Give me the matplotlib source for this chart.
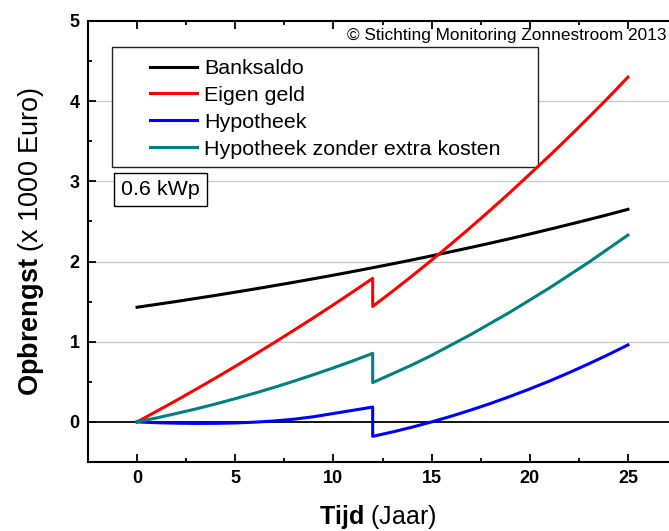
import matplotlib
matplotlib.use('Agg')
import matplotlib.pyplot as plt
from matplotlib.patches import Rectangle

plt.rcParams['font.family'] = ['Liberation Sans', 'DejaVu Sans']
plt.rcParams['mathtext.fontset'] = 'custom'
plt.rcParams['mathtext.rm'] = 'Liberation Sans'
plt.rcParams['mathtext.bf'] = 'Liberation Sans:bold'

# --- Data (x 1000 Euro) ---
jaren = list(range(0, 26))
banksaldo = [1.430, 1.466, 1.502, 1.540, 1.578, 1.618, 1.658, 1.700, 1.742, 1.786,
             1.830, 1.876, 1.923, 1.971, 2.020, 2.071, 2.123, 2.176, 2.230, 2.286,
             2.343, 2.402, 2.462, 2.523, 2.586, 2.651]

# series with a step at year 12 (two values at t = 12)
jaren_sprong = list(range(0, 13)) + list(range(12, 26))
eigen_geld = [0.0, 0.133, 0.268, 0.407, 0.548, 0.693, 0.841, 0.991, 1.145, 1.301,
              1.461, 1.624, 1.79,
              1.44, 1.627, 1.819, 2.017, 2.22, 2.429, 2.643, 2.863, 3.09,
              3.319, 3.555, 3.797, 4.044, 4.30]
hypotheek = [0.0, -0.010, -0.016, -0.019, -0.018, -0.013, -0.003, 0.012, 0.034,
             0.065, 0.105, 0.145, 0.185,
             -0.18, -0.126, -0.066, 0.0, 0.071, 0.148, 0.230, 0.318, 0.411,
             0.509, 0.614, 0.724, 0.839, 0.96]
hypotheek_zonder = [0.0, 0.050, 0.105, 0.162, 0.224, 0.290, 0.359, 0.432, 0.509,
                    0.590, 0.674, 0.762, 0.855,
                    0.49, 0.60, 0.71, 0.83, 0.96, 1.09, 1.23, 1.37, 1.52,
                    1.67, 1.83, 1.99, 2.16, 2.33]

labels = ['Banksaldo', 'Eigen geld', 'Hypotheek', 'Hypotheek zonder extra kosten']
colors = ['black', '#ff0000', '#0000ff', '#008080']

# --- Plotting Code ---
fig = plt.figure(figsize=(6.69, 5.31), dpi=100)
ax = fig.add_axes([88 / 669, 1 - 462 / 531, 589 / 669, 441 / 531])

ax.set_xlim(-2.5, 27.5)
ax.set_ylim(-0.5, 5)

for y in [1, 2, 3, 4]:
    ax.axhline(y, color='#c8c8c8', linewidth=0.9, zorder=0)
ax.axhline(0, color='black', linewidth=1.3, zorder=1)

lw = 2.2
h1, = ax.plot(jaren, banksaldo, color=colors[0], linewidth=lw, zorder=4)
h2, = ax.plot(jaren_sprong, eigen_geld, color=colors[1], linewidth=lw, zorder=4)
h3, = ax.plot(jaren_sprong, hypotheek, color=colors[2], linewidth=lw, zorder=4)
h4, = ax.plot(jaren_sprong, hypotheek_zonder, color=colors[3], linewidth=lw, zorder=4)

# legend box drawn separately for its wide side padding
ax.add_patch(Rectangle((-1.27, 3.18), 21.69, 1.50, facecolor='white',
                       edgecolor='#222222', linewidth=1.0, zorder=3))
leg = ax.legend([h1, h2, h3, h4], labels, loc='upper left',
                bbox_to_anchor=(150 / 669, 1 - 59 / 531),
                bbox_transform=fig.transFigure, frameon=False,
                fontsize=15.4, borderpad=0, borderaxespad=0,
                handlelength=2.2, handletextpad=0.33, labelspacing=0.37)
leg.set_zorder(5)

ax.text(1.2, 2.9, '0.6 kWp', fontsize=15.4, ha='center', va='center', zorder=5,
        bbox=dict(boxstyle='square,pad=0.33', facecolor='white',
                  edgecolor='black', linewidth=1.0))

ax.text(26.99, 4.82, '\u00a9 Stichting Monitoring Zonnestroom 2013',
        fontsize=12.4, ha='right', va='center', zorder=5)

# ticks
ax.set_xticks([0, 5, 10, 15, 20, 25])
ax.set_xticks([-2.5, 2.5, 7.5, 12.5, 17.5, 22.5, 27.5], minor=True)
ax.set_yticks([0, 1, 2, 3, 4, 5])
ax.set_yticks([-0.5, 0.5, 1.5, 2.5, 3.5, 4.5], minor=True)
ax.tick_params(which='both', direction='in', top=True, right=False,
               width=1.3, color='black')
ax.tick_params(which='major', length=6, labelsize=13, pad=6)
ax.tick_params(which='minor', length=3)
for lab in ax.get_xticklabels() + ax.get_yticklabels():
    lab.set_fontweight('bold')

for side in ['left', 'bottom', 'top']:
    ax.spines[side].set_linewidth(1.5)
ax.spines['right'].set_visible(False)

ax.set_xlabel(r'$\mathbf{Tijd}$ (Jaar)', fontsize=18)
ax.set_ylabel(r'$\mathbf{Opbrengst}$ (x 1000 Euro)', fontsize=19.5)
ax.xaxis.set_label_coords(0.492, -0.093)
ax.yaxis.set_label_coords(-0.072, 0.5)

plt.savefig('out.png', dpi=100)
